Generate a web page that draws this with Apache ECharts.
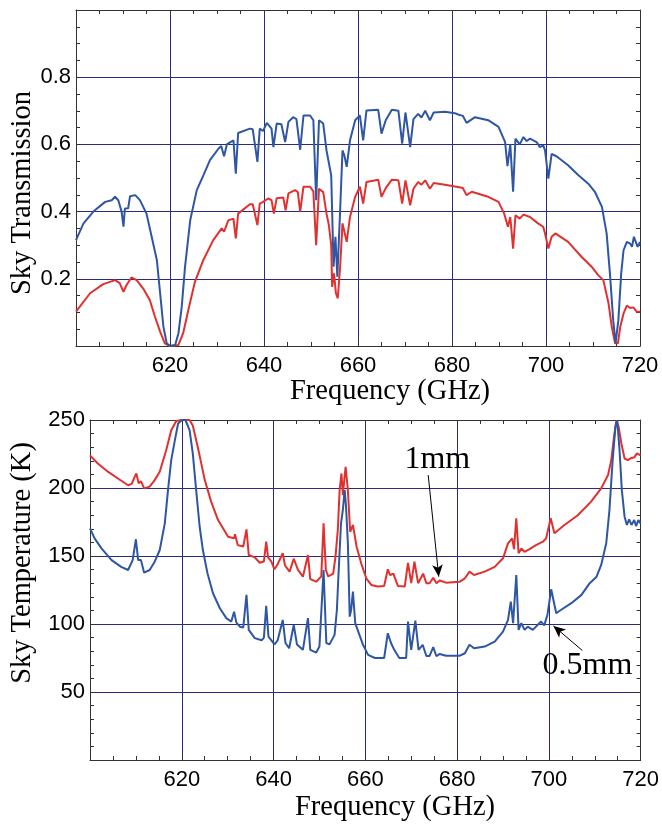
<!DOCTYPE html>
<html><head><meta charset="utf-8">
<script src="https://cdn.jsdelivr.net/npm/echarts/dist/echarts.min.js"></script>
<style>html,body{margin:0;padding:0;background:#fff}#c{width:662px;height:825px}</style>
</head><body><div id="c"></div>
<script>
// ---- Data: Sky transmission (top panel) ----
const trans05Freq = [600.0,601.6,603.7,606.2,607.6,608.3,609.0,609.7,610.1,610.4,611.1,611.5,612.6,613.6,615.0,616.1,617.2,617.9,618.6,619.3,620.0,621.1,621.8,622.5,623.2,624.3,625.7,627.1,628.5,630.3,630.9,631.5,632.1,633.5,634.0,634.5,637.0,637.6,638.6,639.1,639.8,640.6,641.6,642.0,642.7,643.7,644.5,645.2,646.2,646.9,647.7,648.4,649.8,650.5,651.1,651.7,652.6,653.3,654.3,654.8,655.2,655.6,656.2,656.7,657.1,657.6,658.3,659.4,660.4,661.1,661.8,664.3,665.0,665.9,667.2,668.6,669.4,670.1,671.1,671.8,672.8,673.5,674.3,675.3,676.1,678.5,680.6,681.3,682.3,683.1,684.9,687.7,689.9,691.3,691.8,692.4,693.0,693.5,694.4,695.2,695.9,696.6,698.0,698.7,699.4,699.8,700.5,701.2,702.3,704.7,706.9,709.0,710.4,711.9,712.9,713.6,714.3,714.8,715.4,716.0,716.5,717.2,717.9,718.3,718.7,719.5,720.0];
const trans05 = [0.315,0.365,0.400,0.429,0.434,0.444,0.434,0.400,0.355,0.409,0.410,0.446,0.449,0.434,0.394,0.325,0.256,0.157,0.057,0.008,0.000,0.003,0.038,0.117,0.236,0.374,0.464,0.508,0.553,0.587,0.595,0.565,0.600,0.612,0.513,0.634,0.647,0.645,0.548,0.647,0.640,0.664,0.647,0.592,0.662,0.660,0.607,0.667,0.681,0.675,0.584,0.686,0.686,0.672,0.434,0.672,0.662,0.582,0.508,0.236,0.325,0.206,0.404,0.582,0.567,0.533,0.612,0.672,0.686,0.612,0.701,0.703,0.632,0.672,0.703,0.700,0.602,0.695,0.592,0.675,0.691,0.680,0.700,0.672,0.695,0.697,0.693,0.689,0.685,0.664,0.681,0.672,0.652,0.607,0.535,0.600,0.459,0.617,0.600,0.622,0.610,0.617,0.607,0.592,0.597,0.582,0.498,0.572,0.564,0.538,0.508,0.483,0.459,0.414,0.335,0.216,0.077,0.008,0.077,0.216,0.285,0.310,0.305,0.295,0.325,0.295,0.310];

const trans1Freq = [600.0,603.0,605.8,608.3,609.3,610.1,610.7,611.1,611.8,612.9,614.3,615.7,616.8,617.9,618.9,620.0,621.8,622.8,623.9,625.3,627.1,629.2,631.0,631.5,632.4,633.5,634.0,634.5,637.0,637.6,638.6,639.1,639.8,640.9,641.6,642.1,642.7,644.1,644.6,645.2,646.6,647.2,647.7,648.4,649.8,650.5,651.1,651.7,652.6,653.3,653.8,654.3,654.5,654.9,655.3,655.7,656.2,656.7,657.1,657.6,658.3,659.4,660.4,661.1,661.8,664.3,665.0,665.9,667.2,668.6,669.4,670.1,671.1,671.8,672.8,673.5,674.3,675.3,676.1,678.5,680.6,681.3,682.3,683.1,684.2,687.7,689.9,691.1,691.9,692.4,693.0,693.5,694.4,695.2,696.6,698.3,699.4,699.8,700.5,701.2,702.0,704.7,707.6,709.7,711.1,712.2,713.3,714.0,714.7,715.3,715.8,716.5,717.2,717.9,718.6,719.3,720.0];
const trans1 = [0.102,0.157,0.184,0.196,0.187,0.161,0.180,0.182,0.204,0.196,0.171,0.137,0.087,0.043,0.008,0.000,0.003,0.038,0.107,0.191,0.256,0.315,0.350,0.340,0.374,0.379,0.320,0.394,0.422,0.422,0.360,0.424,0.429,0.439,0.434,0.394,0.440,0.442,0.404,0.454,0.464,0.458,0.400,0.474,0.474,0.460,0.300,0.468,0.458,0.394,0.360,0.300,0.176,0.216,0.157,0.142,0.236,0.365,0.360,0.310,0.384,0.444,0.474,0.424,0.488,0.495,0.444,0.470,0.495,0.493,0.424,0.493,0.419,0.468,0.488,0.480,0.493,0.468,0.485,0.480,0.475,0.473,0.470,0.449,0.459,0.444,0.429,0.394,0.355,0.384,0.290,0.389,0.379,0.391,0.384,0.365,0.355,0.335,0.290,0.325,0.335,0.310,0.265,0.236,0.211,0.196,0.127,0.057,0.008,0.008,0.057,0.097,0.120,0.113,0.115,0.102,0.102];

// ---- Data: Sky temperature (bottom panel) ----
const temp05Freq = [600.0,601.0,602.5,604.7,606.8,608.3,609.3,610.0,610.5,611.1,611.8,613.0,614.1,615.2,616.3,617.0,617.7,618.5,619.2,620.0,620.8,621.7,622.4,623.2,623.9,624.6,625.6,626.8,628.3,629.7,630.8,631.4,631.9,632.7,633.4,634.1,634.6,635.9,637.4,637.9,638.4,638.9,639.3,640.2,640.9,642.0,642.6,643.4,644.4,645.1,646.4,647.5,648.0,649.3,650.0,650.9,651.5,652.2,653.3,653.8,654.2,654.7,655.1,655.5,655.8,656.2,656.6,656.9,657.3,657.8,658.4,659.5,660.6,662.1,664.1,664.9,665.6,666.3,667.4,668.9,669.3,670.0,670.9,671.6,672.5,673.3,674.0,674.8,675.5,676.2,677.6,680.5,681.7,682.7,683.7,686.0,688.2,690.0,691.1,691.7,692.2,692.9,693.4,694.0,694.7,695.4,696.5,698.3,699.0,699.7,700.5,701.6,702.6,704.9,707.1,708.9,710.4,711.4,712.5,713.2,713.9,714.5,714.9,715.4,715.9,716.5,717.0,717.5,718.0,718.6,719.0,719.5,720.0];
const temp05 = [170.3,163,155.6,147,142,139.7,147,162.3,147,147,137.7,139.7,145.8,154.4,174,198.4,220.5,235.2,247.4,250,250,242.5,225.4,196,171.5,154.4,137.3,122.6,111.6,104.3,101.8,109,101,98,97.5,121.4,95.7,89.6,88,90,113.3,90.7,92,85,88,103,86,82.2,99.3,85,81,104.3,81,79,83.4,139.7,86,85,92,110.3,139.7,174,183.8,198.4,186.2,159.3,105.4,110,123.8,100.6,95,84.7,77.3,75,75,93.2,86,81,75,75,101.8,81,102.5,81,84.7,76.5,76.5,83,76.3,78,76.6,76.6,78.5,84.7,82.2,83.4,87.1,94.4,103,116.4,100.6,136,95.7,100.6,95.7,98,95.7,101.8,99,107,125.5,107.9,110.3,115.3,121.4,130,134.8,143.4,159.3,183.8,220.5,244.9,249.8,227.8,198.4,178.9,172.8,177,172.8,176.4,172,176.4,174];

const temp1Freq = [600.0,601.7,603.9,606.1,608.3,609.1,609.7,610.1,610.6,611.1,611.8,613.0,614.1,615.2,616.6,617.7,618.8,620.0,621.7,622.4,623.5,625.0,626.4,627.9,630.1,631.4,631.6,632.2,633.4,634.1,634.6,635.9,637.0,637.9,638.4,638.8,639.5,640.2,640.9,642.0,642.5,643.5,644.4,645.3,646.4,647.5,648.0,649.3,650.4,650.9,651.4,651.9,653.0,653.5,654.0,654.4,654.8,655.1,655.7,656.2,656.7,657.3,658.1,659.1,660.2,661.3,662.7,664.1,664.9,665.4,666.1,667.1,668.6,669.3,670.0,670.7,671.5,672.6,673.3,674.0,674.8,675.5,676.2,677.6,680.5,681.7,682.7,683.7,686.0,688.2,690.0,691.1,692.0,692.4,692.9,693.4,694.0,694.7,695.8,697.2,698.7,699.4,700.4,701.2,703.4,706.3,709.2,711.4,712.9,713.6,714.2,714.7,715.2,715.8,716.5,717.2,717.9,718.6,719.2,720.0];
const temp1 = [224,218,212,207,202,203,208,210.7,203.5,205,199.7,201,205.8,212,227.8,242.5,249.3,250,250,246,230,206,190,176.4,164.2,163,166,158,157,169.6,150.7,149,145,146,160.5,149,146,140.2,144,152,143,138.5,148,140,134.8,150.7,133,131.1,135,174,139.7,135,137,149.5,169,198.4,210.7,194.8,215.6,198.4,167.8,172.8,156.8,144.6,133.6,128.7,127.6,128,140.2,136,137,128,127.6,145,130,145.8,130,137,130,130,134,130,132,130.4,131,133.6,138.5,136,138.5,142,148.3,159.3,163,155,177.7,152,155.5,153,155,158,160.5,163,177.7,166.7,172.8,180,190,199.7,209.5,220.5,237.6,249.8,245,232.7,221.7,220.5,222,222.5,225.5,224];

// ---- Annotations ----
const label1mm = {text: '1mm', at: [675.7, 221], arrowFrom: [673.7, 209.5], arrowTo: [676.0, 134.8]};
const label05mm = {text: '0.5mm', at: [708.4, 69.3], arrowFrom: [707.3, 80.5], arrowTo: [701.0, 98.6]};

const xTickLabels = [620, 640, 660, 680, 700, 720];

const zip = (xs, ys) => xs.map((x, i) => [x, ys[i]]);

const BLUE = '#2f56a3', RED = '#e0312f', GRIDC = '#2a2a80', AXC = '#333';
const tickFont = {fontFamily: 'Liberation Sans, Arial, sans-serif', fontSize: 22, color: '#000'};

function xAx(grid, pos, labels) {
  return {
    type: 'value', gridIndex: grid, position: pos, min: 600, max: 720, interval: 20,
    axisLine: {show: true, onZero: false, lineStyle: {color: AXC, width: 1}},
    axisTick: {show: true, inside: true, length: 5, lineStyle: {color: AXC}},
    minorTick: {show: true, splitNumber: 4, length: 4, lineStyle: {color: AXC}},
    axisLabel: labels ? Object.assign({show: true, margin: 9,
      formatter: v => xTickLabels.includes(v) ? String(v) : ''}, tickFont) : {show: false},
    splitLine: {show: labels, lineStyle: {color: GRIDC, width: 1}},
    minorSplitLine: {show: false}
  };
}
function yAx(grid, pos, labels, min, max, interval, minorN, fmt) {
  return {
    type: 'value', gridIndex: grid, position: pos, min, max, interval,
    axisLine: {show: true, onZero: false, lineStyle: {color: AXC, width: 1}},
    axisTick: {show: true, inside: true, length: 5, lineStyle: {color: AXC}},
    minorTick: {show: true, splitNumber: minorN, length: 4, lineStyle: {color: AXC}},
    axisLabel: labels ? Object.assign({show: true, margin: 5, formatter: fmt}, tickFont) : {show: false},
    splitLine: {show: labels, lineStyle: {color: GRIDC, width: 1}}
  };
}

const serif = 'Liberation Serif, Times New Roman, serif';
const chart = echarts.init(document.getElementById('c'), null, {renderer: 'canvas'});

function lineSeries(name, xi, yi, data, color) {
  return {
    name, type: 'line', xAxisIndex: xi, yAxisIndex: yi, data, showSymbol: false,
    symbol: 'none', lineStyle: {color, width: 2}, itemStyle: {color}, clip: true,
    animation: false, z: color === RED ? 3 : 4
  };
}

function annot(a) {
  return {
    markLine: {
      silent: true, symbol: ['none', 'arrow'], symbolSize: [8, 12], animation: false,
      lineStyle: {color: '#000', width: 1, type: 'solid'}, label: {show: false},
      data: [[{coord: a.arrowFrom}, {coord: a.arrowTo}]]
    },
    markPoint: {
      silent: true, symbol: 'circle', symbolSize: 1, itemStyle: {color: 'rgba(0,0,0,0)'}, animation: false,
      label: {show: true, position: 'inside', formatter: a.text, color: '#000',
        fontFamily: serif, fontSize: 32},
      data: [{coord: a.at}]
    }
  };
}

const s3 = lineSeries('1mm T', 2, 2, zip(temp1Freq, temp1), RED);
Object.assign(s3, annot(label1mm));
const s4 = lineSeries('0.5mm T', 2, 2, zip(temp05Freq, temp05), BLUE);
Object.assign(s4, annot(label05mm));

const titleFont = '28.5px ' + serif;
chart.setOption({
  backgroundColor: '#fff',
  animation: false,
  grid: [
    {left: 76, top: 10, width: 564, height: 336},
    {left: 90, top: 420, width: 551, height: 340}
  ],
  xAxis: [xAx(0, 'bottom', true), xAx(0, 'top', false), xAx(1, 'bottom', true), xAx(1, 'top', false)],
  yAxis: [
    yAx(0, 'left', true, 0, 1, 0.2, 4, v => (v <= 0.001 || v >= 0.999) ? '' : v.toFixed(1)),
    yAx(0, 'right', false, 0, 1, 0.2, 4),
    yAx(1, 'left', true, 0, 250, 50, 5, v => v === 0 ? '' : String(v)),
    yAx(1, 'right', false, 0, 250, 50, 5)
  ],
  series: [
    lineSeries('1mm', 0, 0, zip(trans1Freq, trans1), RED),
    lineSeries('0.5mm', 0, 0, zip(trans05Freq, trans05), BLUE),
    s3, s4
  ],
  graphic: [
    {type: 'text', x: 390, y: 392, style: {text: 'Frequency (GHz)', font: titleFont, fill: '#000', textAlign: 'center', textVerticalAlign: 'middle'}},
    {type: 'text', x: 395, y: 808, style: {text: 'Frequency (GHz)', font: titleFont, fill: '#000', textAlign: 'center', textVerticalAlign: 'middle'}},
    {type: 'text', x: 23, y: 193, rotation: Math.PI / 2, style: {text: 'Sky Transmission', font: titleFont, fill: '#000', textAlign: 'center', textVerticalAlign: 'middle'}},
    {type: 'text', x: 23, y: 563, rotation: Math.PI / 2, style: {text: 'Sky Temperature (K)', font: titleFont, fill: '#000', textAlign: 'center', textVerticalAlign: 'middle'}}
  ]
});
</script></body></html>
